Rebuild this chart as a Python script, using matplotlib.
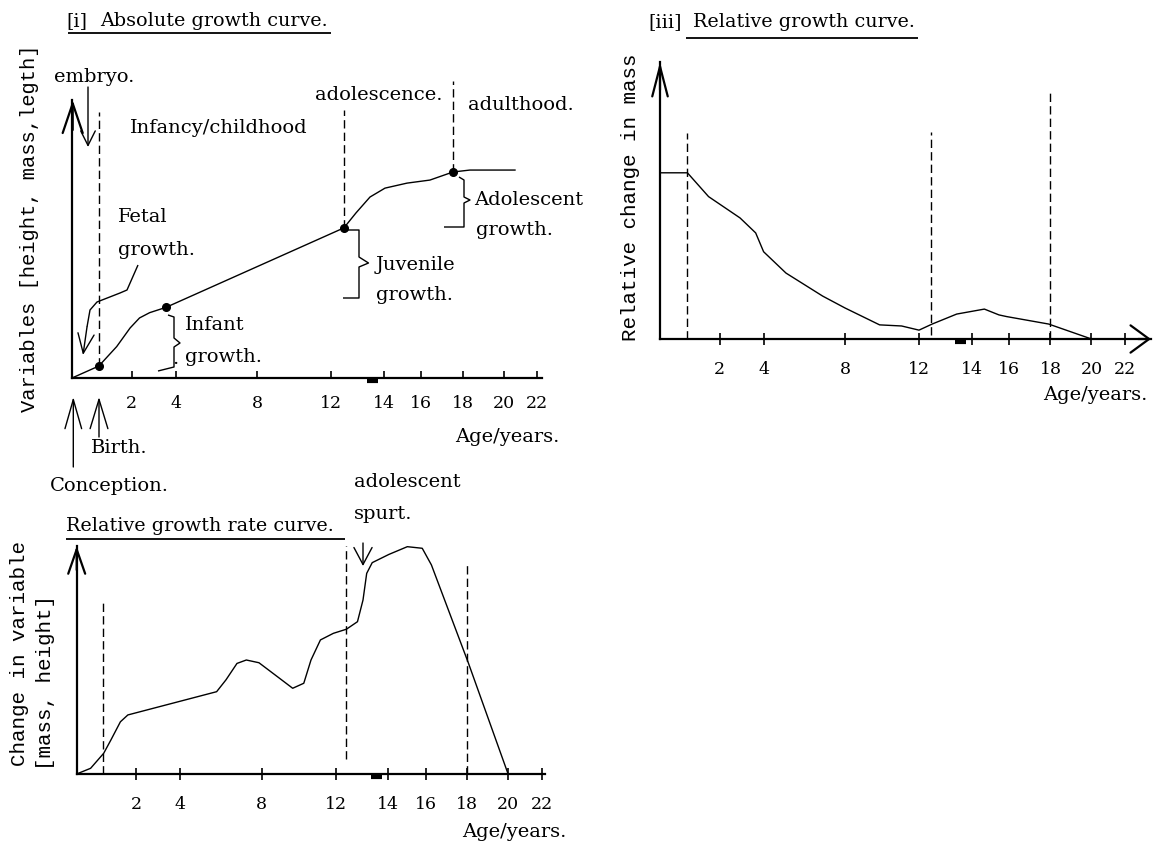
import numpy as np
import matplotlib.pyplot as plt

W, H = 1155, 844
plt.rcParams['font.family'] = ['DejaVu Serif', 'DejaVu Sans']
MONO = ['Liberation Mono', 'DejaVu Sans Mono']

# ---- values (y in arbitrary units, 100 = top of y axis) ----
# [i] absolute growth curve
abs_age = [0, 0.9, 1.5, 1.95, 2.36, 2.82, 3.56, 12.49, 12.95, 13.48, 14.07,
           15.25, 16.43, 17.54, 18.36, 20.68]
abs_val = [0, 4.3, 11.3, 18.0, 21.6, 23.5, 25.4, 54.0, 59.4, 65.1, 68.3,
           70.1, 71.2, 74.1, 74.8, 74.8]
abs_dots = [0.9, 3.56, 12.49, 17.54]

# [iii] relative growth curve
rel_age = [0, 0.92, 1.63, 2.93, 3.64, 4.0, 5.1, 6.9, 8.0, 9.87, 11.06, 12.0,
           12.5, 13.43, 14.68, 15.46, 15.87, 17.91, 20.0]
rel_val = [60, 60, 51.4, 43.7, 38.3, 31.5, 23.8, 15.5, 11.2, 5.1, 4.7, 3.2,
           5.4, 9.0, 10.8, 8.7, 8.1, 5.4, 0]

# relative growth rate curve
rate_age = [0, 0.47, 0.91, 1.15, 1.47, 1.72, 5.79, 6.25, 6.79, 7.25, 7.87,
            9.08, 9.68, 10.28, 10.67, 11.18, 11.88, 12.41, 12.83, 13.04, 13.18,
            13.39, 14.03, 15.02, 15.82, 16.28, 18.07, 20.0]
rate_val = [0, 2.5, 9.1, 14.9, 22.9, 25.9, 36.1, 41.3, 48.5, 50.0, 48.8,
            41.3, 37.6, 39.8, 50.0, 58.8, 61.7, 63.5, 66.8, 76.3, 88.0,
            92.7, 96.3, 99.7, 99.0, 91.7, 48.5, 0]

tick_age = [2, 4, 8, 12, 14, 16, 18, 20, 22]

# the hand drawn age axis is unevenly spaced: where each tick sits (px from origin)
axis_age = [0, 2, 4, 8, 12, 14, 16, 18, 20, 22]
axis_pos = [0, 59.6, 103.6, 185, 259, 311.7, 349, 390.5, 431.5, 465.3]


def fwd(a):
    a = np.asarray(a, dtype=float)
    p = np.interp(a, axis_age, axis_pos)
    p = np.where(a > 22, axis_pos[-1] + (a - 22) * (axis_pos[-1] - axis_pos[-2]) / 2, p)
    p = np.where(a < 0, a * axis_pos[1] / 2, p)
    return p


def inv(p):
    p = np.asarray(p, dtype=float)
    a = np.interp(p, axis_pos, axis_age)
    a = np.where(p > axis_pos[-1], 22 + (p - axis_pos[-1]) * 2 / (axis_pos[-1] - axis_pos[-2]), a)
    a = np.where(p < 0, p * 2 / axis_pos[1], a)
    return a


fig = plt.figure(figsize=(W / 100, H / 100), dpi=100)


def panel(x0, y0, top, xmax, tdir='in', tlen=5):
    w = float(fwd(xmax))
    ax = fig.add_axes([x0 / W, 1 - y0 / H, w / W, (y0 - top) / H])
    ax.set_xscale('function', functions=(fwd, inv))
    ax.set_xlim(0, xmax)
    ax.set_ylim(0, 100)
    ax.patch.set_visible(False)
    for s in ['top', 'right']:
        ax.spines[s].set_visible(False)
    for s in ['left', 'bottom']:
        ax.spines[s].set_linewidth(1.6)
    ax.set_yticks([])
    ax.set_xticks(tick_age, [str(t) for t in tick_age])
    ax.tick_params(axis='x', direction=tdir, length=tlen, width=1.2, pad=12,
                   labelsize=12.5)
    return ax


dash = (0, (6, 3))

# panel [i]
ax1 = panel(72, 378, 100, 22.3)
ax1.plot(abs_age, abs_val, color='black', lw=1)
ax1.plot(abs_dots, np.interp(abs_dots, abs_age, abs_val), 'o', ms=5.5, color='black')
for a, top in zip([0.9, 12.49, 17.54], [95.7, 96.4, 107]):
    ax1.plot([a, a], [np.interp(a, abs_age, abs_val), top], ls=dash, lw=1,
             color='black', clip_on=False)

# panel [iii]
ax2 = panel(660, 339, 62, 23.52, 'inout', 8)
ax2.plot(rel_age, rel_val, color='black', lw=1)
for a, lo, top in zip([0.9, 12.45, 18.0], [0, 1.4, 0], [74.4, 74.7, 88.8]):
    ax2.plot([a, a], [lo, top], ls=dash, lw=1, color='black', clip_on=False)

# relative growth rate panel
ax3 = panel(76.6, 774, 546, 22.18, 'inout', 8)
ax3.plot(rate_age, rate_val, color='black', lw=1)
for a, lo, top in zip([0.9, 12.41, 18.0], [0, 6.6, 0], [76.3, 100, 92.5]):
    ax3.plot([a, a], [lo, top], ls=dash, lw=1, color='black', clip_on=False)

# ---- overlay in pixel coordinates for the hand drawn annotations ----
ov = fig.add_axes([0, 0, 1, 1])
ov.set_xlim(0, W)
ov.set_ylim(H, 0)
ov.axis('off')
ov.patch.set_visible(False)


def arrow(tail, tip, a, b, lw=1.0):
    L = np.hypot(a, b) * 0.72
    ov.annotate("", xy=tip, xytext=tail,
                arrowprops=dict(arrowstyle=f"->,head_length={L:.2f},head_width={L * b / a:.2f}",
                                mutation_scale=1, lw=lw, color='black',
                                shrinkA=0, shrinkB=0))


def txt(x, y, s, size=14, **kw):
    ov.text(x, y, s, fontsize=size, va='center', ha='left', **kw)


def vlabel(x, y, s, size=15):
    ov.text(x, y, s, fontsize=size, rotation=90, va='center', ha='center',
            family=MONO)


def line(xs, ys, lw=1.0):
    ov.plot(xs, ys, color='black', lw=lw, solid_capstyle='butt')


# axis arrow heads
arrow((72.7, 130), (72.7, 100), 28, 9.5, lw=1.6)
arrow((660, 90), (660, 62), 29, 7.5, lw=1.6)
arrow((76.7, 570), (76.7, 546), 23, 8, lw=1.6)
arrow((1138, 339), (1151, 339), 15, 11, lw=1.6)

# small stray marks under the axes
line([367, 378], [381, 381], lw=3)
line([955, 966], [342, 342], lw=3)
line([371, 382], [777, 777], lw=3)

# panel [i] texts
txt(66, 21, "[i]", size=13.8)
txt(100, 21, "Absolute growth curve.", size=13.8)
line([68, 331], [33, 33], lw=1.3)
vlabel(30, 228, "Variables [height, mass,legth]", size=14.8)
txt(54, 77, "embryo.")
arrow((88, 87), (88, 147), 13, 6.5)
txt(130, 128, "Infancy/childhood")
txt(315, 95, "adolescence.")
txt(468, 105, "adulthood.")
txt(118, 217, "Fetal")
txt(118, 250, "growth.")
line([138, 127, 120, 97, 90, 87], [265, 290, 293, 302, 310, 327])
arrow((87, 327), (83, 355), 18, 7.5)
txt(185, 325, "Infant")
txt(185, 357, "growth.")
txt(172, 359, ".")
line([168, 174, 174, 180, 174, 174, 158], [315, 317, 338, 343, 347, 367, 371])
txt(376, 265, "Juvenile")
txt(376, 295, "growth.")
line([343, 359, 359, 368.5, 359, 359, 343], [230, 230, 257, 263, 267, 298, 298])
txt(474, 200, "Adolescent")
txt(476, 230, "growth.")
line([459, 464, 464, 470, 464, 464, 444], [177, 180, 197, 200, 203, 227, 227])
txt(455, 437, "Age/years.")
arrow((73.3, 467), (73.3, 397), 28, 8)
arrow((99, 437), (99, 397), 28, 8.5)
txt(91, 448, "Birth.")
txt(50, 486, "Conception.")

# panel [iii] texts
txt(648, 22, "[iii]", size=13.8)
txt(693, 22, "Relative growth curve.", size=13.8)
line([686, 918], [38, 38], lw=1.3)
vlabel(630, 197, "Relative change in mass")
txt(1043, 395, "Age/years.")

# relative growth rate texts
txt(66, 526, "Relative growth rate curve.", size=13.8)
line([66, 345], [539, 539], lw=1.3)
txt(354, 482, "adolescent")
txt(354, 514, "spurt.")
arrow((363, 543), (363, 566), 15, 8)
vlabel(20, 654, "Change in variable")
vlabel(46, 682, "[mass, height]")
txt(462, 832, "Age/years.")

fig.savefig('out.png', dpi=100, facecolor='white')
